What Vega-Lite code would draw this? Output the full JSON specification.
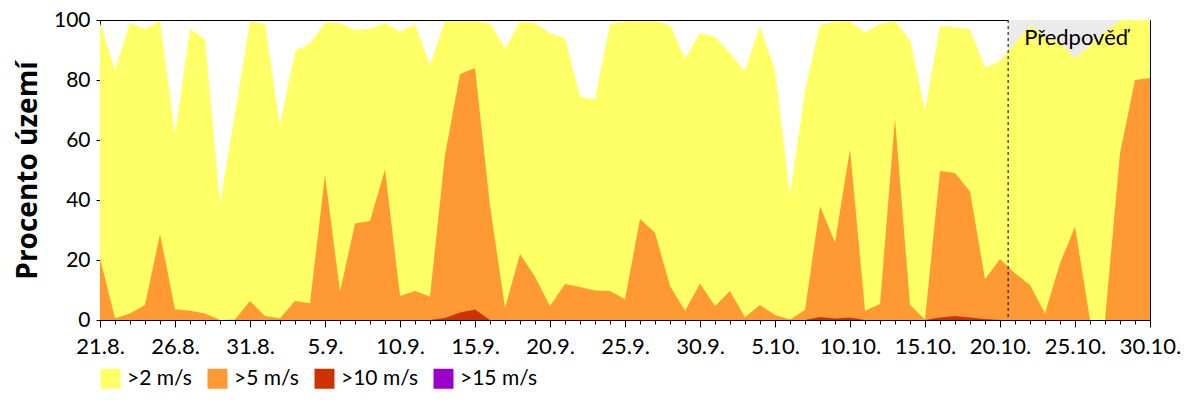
{
  "$schema": "https://vega.github.io/schema/vega-lite/v6.json",
  "width": 1050,
  "height": 300,
  "autosize": {"type": "none"},
  "padding": {"left": 100, "top": 20, "right": 50, "bottom": 80},
  "background": "white",
  "config": {
    "view": {"stroke": "black", "strokeWidth": 1},
    "font": "Lato",
    "axis": {"domainColor": "black", "tickColor": "black", "labelColor": "black", "titleColor": "black", "labelFont": "Lato", "labelFontSize": 22, "grid": false, "titleFont": "Open Sans"},
    "legend": {"labelFont": "Lato", "labelFontSize": 21, "labelColor": "black"}
  },
  "datasets": {
    "wind": [
      {"date": "2023-08-21", "p2": 99, "p5": 20.6, "p10": 0, "p15": 0},
      {"date": "2023-08-22", "p2": 83.3, "p5": 0.6, "p10": 0, "p15": 0},
      {"date": "2023-08-23", "p2": 99, "p5": 2.2, "p10": 0, "p15": 0},
      {"date": "2023-08-24", "p2": 97, "p5": 5, "p10": 0, "p15": 0},
      {"date": "2023-08-25", "p2": 99.7, "p5": 28.6, "p10": 0, "p15": 0},
      {"date": "2023-08-26", "p2": 62, "p5": 3.6, "p10": 0, "p15": 0},
      {"date": "2023-08-27", "p2": 97, "p5": 3.1, "p10": 0, "p15": 0},
      {"date": "2023-08-28", "p2": 93.6, "p5": 2.2, "p10": 0, "p15": 0},
      {"date": "2023-08-29", "p2": 39, "p5": 0, "p10": 0, "p15": 0},
      {"date": "2023-08-30", "p2": 69, "p5": 0.2, "p10": 0, "p15": 0},
      {"date": "2023-08-31", "p2": 99.7, "p5": 6.3, "p10": 0, "p15": 0},
      {"date": "2023-09-01", "p2": 98.6, "p5": 1.3, "p10": 0, "p15": 0},
      {"date": "2023-09-02", "p2": 65, "p5": 0.6, "p10": 0, "p15": 0},
      {"date": "2023-09-03", "p2": 89.7, "p5": 6.3, "p10": 0, "p15": 0},
      {"date": "2023-09-04", "p2": 92.2, "p5": 5.6, "p10": 0, "p15": 0},
      {"date": "2023-09-05", "p2": 99.2, "p5": 48.3, "p10": 0, "p15": 0},
      {"date": "2023-09-06", "p2": 98.9, "p5": 9.4, "p10": 0, "p15": 0},
      {"date": "2023-09-07", "p2": 96.7, "p5": 32.2, "p10": 0, "p15": 0},
      {"date": "2023-09-08", "p2": 97.2, "p5": 33, "p10": 0, "p15": 0},
      {"date": "2023-09-09", "p2": 98.9, "p5": 50.2, "p10": 0, "p15": 0},
      {"date": "2023-09-10", "p2": 96.1, "p5": 8, "p10": 0, "p15": 0},
      {"date": "2023-09-11", "p2": 98.6, "p5": 9.7, "p10": 0, "p15": 0},
      {"date": "2023-09-12", "p2": 85, "p5": 7.8, "p10": 0, "p15": 0},
      {"date": "2023-09-13", "p2": 99.7, "p5": 55, "p10": 0.7, "p15": 0},
      {"date": "2023-09-14", "p2": 99.7, "p5": 82, "p10": 2.5, "p15": 0},
      {"date": "2023-09-15", "p2": 99.7, "p5": 84, "p10": 3.5, "p15": 0},
      {"date": "2023-09-16", "p2": 98.9, "p5": 38, "p10": 0, "p15": 0},
      {"date": "2023-09-17", "p2": 90.6, "p5": 4, "p10": 0, "p15": 0},
      {"date": "2023-09-18", "p2": 99.4, "p5": 22, "p10": 0, "p15": 0},
      {"date": "2023-09-19", "p2": 98.9, "p5": 14.4, "p10": 0, "p15": 0},
      {"date": "2023-09-20", "p2": 95.6, "p5": 4.7, "p10": 0, "p15": 0},
      {"date": "2023-09-21", "p2": 93.9, "p5": 12, "p10": 0, "p15": 0},
      {"date": "2023-09-22", "p2": 74.4, "p5": 11, "p10": 0, "p15": 0},
      {"date": "2023-09-23", "p2": 73.6, "p5": 9.8, "p10": 0, "p15": 0},
      {"date": "2023-09-24", "p2": 98.7, "p5": 9.7, "p10": 0, "p15": 0},
      {"date": "2023-09-25", "p2": 99.4, "p5": 6.9, "p10": 0, "p15": 0},
      {"date": "2023-09-26", "p2": 99.7, "p5": 33.7, "p10": 0, "p15": 0},
      {"date": "2023-09-27", "p2": 99.7, "p5": 29.1, "p10": 0, "p15": 0},
      {"date": "2023-09-28", "p2": 98.3, "p5": 11.3, "p10": 0, "p15": 0},
      {"date": "2023-09-29", "p2": 87.2, "p5": 3.1, "p10": 0, "p15": 0},
      {"date": "2023-09-30", "p2": 95.6, "p5": 12.2, "p10": 0, "p15": 0},
      {"date": "2023-10-01", "p2": 94.4, "p5": 4.7, "p10": 0, "p15": 0},
      {"date": "2023-10-02", "p2": 88.9, "p5": 9.7, "p10": 0, "p15": 0},
      {"date": "2023-10-03", "p2": 83, "p5": 0.9, "p10": 0, "p15": 0},
      {"date": "2023-10-04", "p2": 98, "p5": 5, "p10": 0, "p15": 0},
      {"date": "2023-10-05", "p2": 83.3, "p5": 1.7, "p10": 0, "p15": 0},
      {"date": "2023-10-06", "p2": 41.7, "p5": 0.2, "p10": 0, "p15": 0},
      {"date": "2023-10-07", "p2": 76.7, "p5": 3.3, "p10": 0, "p15": 0},
      {"date": "2023-10-08", "p2": 98.3, "p5": 38, "p10": 1, "p15": 0},
      {"date": "2023-10-09", "p2": 99.4, "p5": 25.9, "p10": 0.5, "p15": 0},
      {"date": "2023-10-10", "p2": 99.7, "p5": 56.9, "p10": 0.8, "p15": 0},
      {"date": "2023-10-11", "p2": 95.9, "p5": 3.1, "p10": 0, "p15": 0},
      {"date": "2023-10-12", "p2": 98.7, "p5": 5.3, "p10": 0, "p15": 0},
      {"date": "2023-10-13", "p2": 99.7, "p5": 67.2, "p10": 0, "p15": 0},
      {"date": "2023-10-14", "p2": 93.3, "p5": 5, "p10": 0, "p15": 0},
      {"date": "2023-10-15", "p2": 70, "p5": 0.2, "p10": 0, "p15": 0},
      {"date": "2023-10-16", "p2": 98, "p5": 49.7, "p10": 0.8, "p15": 0},
      {"date": "2023-10-17", "p2": 97.6, "p5": 49, "p10": 1.3, "p15": 0},
      {"date": "2023-10-18", "p2": 96.9, "p5": 42.8, "p10": 0.8, "p15": 0},
      {"date": "2023-10-19", "p2": 84.2, "p5": 13.6, "p10": 0.3, "p15": 0},
      {"date": "2023-10-20", "p2": 86.4, "p5": 20.3, "p10": 0, "p15": 0},
      {"date": "2023-10-21", "p2": 92.2, "p5": 15.6, "p10": 0, "p15": 0},
      {"date": "2023-10-22", "p2": 98.3, "p5": 11.7, "p10": 0, "p15": 0},
      {"date": "2023-10-23", "p2": 94.7, "p5": 2.2, "p10": 0, "p15": 0},
      {"date": "2023-10-24", "p2": 92.7, "p5": 18.9, "p10": 0, "p15": 0},
      {"date": "2023-10-25", "p2": 87.2, "p5": 31.1, "p10": 0, "p15": 0},
      {"date": "2023-10-26", "p2": 91.6, "p5": 0, "p10": 0, "p15": 0},
      {"date": "2023-10-27", "p2": 96, "p5": 0, "p10": 0, "p15": 0},
      {"date": "2023-10-28", "p2": 100, "p5": 55.6, "p10": 0, "p15": 0},
      {"date": "2023-10-29", "p2": 100, "p5": 80, "p10": 0, "p15": 0},
      {"date": "2023-10-30", "p2": 100, "p5": 80.7, "p10": 0, "p15": 0}
    ],
    "forecast": [
      {"from": "2023-10-20T13:00:00Z", "to": "2023-10-30T00:00:00Z", "lo": 0, "hi": 100, "label": "Předpověď"}
    ]
  },
  "layer": [
    {
      "data": {"name": "forecast"},
      "mark": {"type": "rect", "color": "#ebebeb"},
      "encoding": {
        "x": {"field": "from", "type": "temporal", "scale": {"type": "utc", "nice": false},
          "title": null,
          "axis": {
            "tickCount": {"interval": "day", "step": 1},
            "labelExpr": "round((datum.value - 1692576000000) / 86400000) % 5 == 0 ? utcFormat(datum.value, '%-d.%-m.') : ''",
            "tickSize": {"condition": {"test": "round((datum.value - 1692576000000) / 86400000) % 5 == 0", "value": 7}, "value": 4},
            "labelOverlap": false,
            "labelFlush": false,
            "labelPadding": 9
          }},
        "x2": {"field": "to"},
        "y": {"field": "lo", "type": "quantitative", "scale": {"domain": [0, 100], "nice": false},
          "axis": {"title": "Procento území", "values": [0, 20, 40, 60, 80, 100], "tickSize": 4, "labelPadding": 6, "labelFontSize": 21, "titleFontSize": 28, "titleFontWeight": "bold", "titlePadding": 11}},
        "y2": {"field": "hi"}
      }
    },
    {
      "data": {"name": "wind"},
      "mark": {"type": "area", "opacity": 1, "interpolate": "linear"},
      "encoding": {
        "x": {"field": "date", "type": "temporal"},
        "y": {"field": "p2", "type": "quantitative"},
        "color": {"datum": "p2", "type": "nominal",
          "scale": {"domain": ["p2", "p5", "p10", "p15"], "range": ["#ffff66", "#ff9933", "#cc3300", "#9900cc"]},
          "legend": {"title": null, "orient": "bottom", "direction": "horizontal", "symbolType": "square", "symbolSize": 400, "symbolStrokeWidth": 0, "symbolOpacity": 1, "labelOffset": 6, "columnPadding": 15, "offset": 11,
            "labelExpr": "{'p2': '>2 m/s', 'p5': '>5 m/s', 'p10': '>10 m/s', 'p15': '>15 m/s'}[datum.label]"}}
      }
    },
    {
      "data": {"name": "wind"},
      "mark": {"type": "area", "opacity": 1, "interpolate": "linear"},
      "encoding": {
        "x": {"field": "date", "type": "temporal"},
        "y": {"field": "p5", "type": "quantitative"},
        "color": {"datum": "p5", "type": "nominal"}
      }
    },
    {
      "data": {"name": "wind"},
      "mark": {"type": "area", "opacity": 1, "interpolate": "linear"},
      "encoding": {
        "x": {"field": "date", "type": "temporal"},
        "y": {"field": "p10", "type": "quantitative"},
        "color": {"datum": "p10", "type": "nominal"}
      }
    },
    {
      "data": {"name": "wind"},
      "mark": {"type": "area", "opacity": 1, "interpolate": "linear"},
      "encoding": {
        "x": {"field": "date", "type": "temporal"},
        "y": {"field": "p15", "type": "quantitative"},
        "color": {"datum": "p15", "type": "nominal"}
      }
    },
    {
      "data": {"name": "forecast"},
      "mark": {"type": "rule", "color": "black", "strokeDash": [3, 3], "strokeWidth": 1},
      "encoding": {
        "x": {"field": "from", "type": "temporal"}
      }
    },
    {
      "data": {"name": "forecast"},
      "mark": {"type": "text", "align": "left", "baseline": "middle", "dx": 16, "fontSize": 22, "font": "Lato", "color": "black"},
      "encoding": {
        "x": {"field": "from", "type": "temporal"},
        "y": {"datum": 94, "type": "quantitative"},
        "text": {"field": "label"}
      }
    }
  ]
}
